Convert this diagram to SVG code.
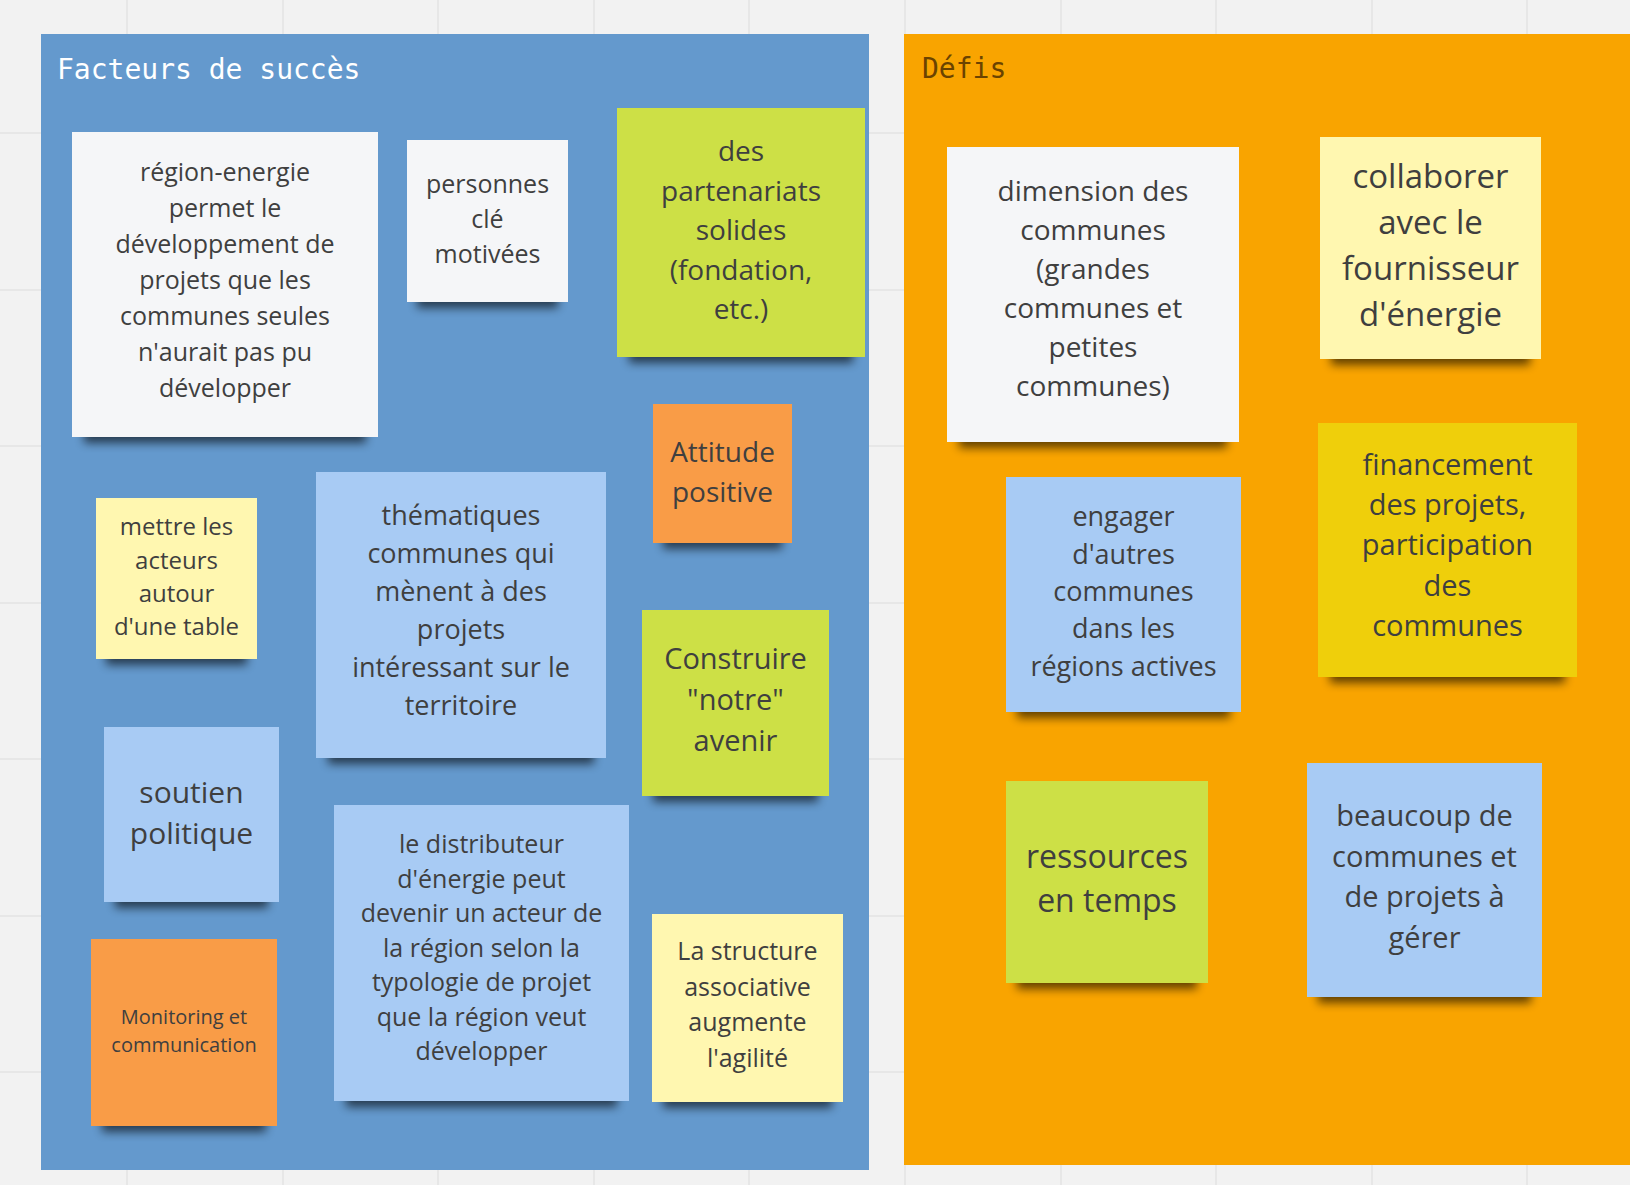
<svg xmlns="http://www.w3.org/2000/svg" width="1630" height="1185" viewBox="0 0 1630 1185">
<style>
.grid line{stroke:#e3e3e3;stroke-width:1.5}
.sh{fill:#000;opacity:.6;filter:url(#blur)}
.t{font-family:"Open Sans","Noto Sans",sans-serif;fill:#3f3f3f;text-anchor:middle}
.title{font-family:"DejaVu Sans Mono","Liberation Mono",monospace;font-size:28px}
.white{fill:#f5f6f8}
.lyellow{fill:#fff7b0}
.green{fill:#cde046}
.orange{fill:#f99c47}
.lblue{fill:#a8cbf4}
.yellow{fill:#efcf0b}
</style>
<defs>
<filter id="blur" x="-20%" y="-50%" width="140%" height="200%"><feGaussianBlur stdDeviation="5"/></filter>
</defs>
<rect width="1630" height="1185" fill="#f2f2f2"/>
<g class="grid">
<line x1="127" y1="0" x2="127" y2="1185"/><line x1="283" y1="0" x2="283" y2="1185"/><line x1="438" y1="0" x2="438" y2="1185"/><line x1="594" y1="0" x2="594" y2="1185"/><line x1="749" y1="0" x2="749" y2="1185"/><line x1="905" y1="0" x2="905" y2="1185"/><line x1="1061" y1="0" x2="1061" y2="1185"/><line x1="1216" y1="0" x2="1216" y2="1185"/><line x1="1372" y1="0" x2="1372" y2="1185"/><line x1="1527" y1="0" x2="1527" y2="1185"/>
<line x1="0" y1="133" x2="1630" y2="133"/><line x1="0" y1="290" x2="1630" y2="290"/><line x1="0" y1="446" x2="1630" y2="446"/><line x1="0" y1="603" x2="1630" y2="603"/><line x1="0" y1="759" x2="1630" y2="759"/><line x1="0" y1="916" x2="1630" y2="916"/><line x1="0" y1="1072" x2="1630" y2="1072"/>
</g>
<g id="frame-succes">
<rect x="41" y="34" width="828" height="1136" fill="#6499cd"/>
<text class="title" x="57" y="79" fill="#ffffff">Facteurs de succès</text>
</g>
<g id="frame-defis">
<rect x="904" y="34" width="726" height="1131" fill="#f9a400"/>
<text class="title" x="922" y="78" fill="#6b4300">Défis</text>
</g>
<g id="connectors"/>

<g id="n1"><rect class="sh" x="84" y="421" width="282" height="22"/><rect class="white" x="72" y="132" width="306" height="305"/>
<text class="t" font-size="25" x="225"><tspan x="225" y="181">région-energie</tspan><tspan x="225" y="217">permet le</tspan><tspan x="225" y="253">développement de</tspan><tspan x="225" y="289">projets que les</tspan><tspan x="225" y="325">communes seules</tspan><tspan x="225" y="361">n'aurait pas pu</tspan><tspan x="225" y="397">développer</tspan></text></g>

<g id="n2"><rect class="sh" x="417" y="286" width="141" height="22"/><rect class="white" x="407" y="140" width="161" height="162"/>
<text class="t" font-size="25" x="487.5"><tspan x="487.5" y="193">personnes</tspan><tspan x="487.5" y="228">clé</tspan><tspan x="487.5" y="263">motivées</tspan></text></g>

<g id="n3"><rect class="sh" x="629" y="341" width="224" height="22"/><rect class="green" x="617" y="108" width="248" height="249"/>
<text class="t" font-size="28" x="741"><tspan x="741" y="161">des</tspan><tspan x="741" y="200.5">partenariats</tspan><tspan x="741" y="240">solides</tspan><tspan x="741" y="279.5">(fondation,</tspan><tspan x="741" y="319">etc.)</tspan></text></g>

<g id="n4"><rect class="sh" x="663" y="527" width="119" height="22"/><rect class="orange" x="653" y="404" width="139" height="139"/>
<text class="t" font-size="28" x="722.5"><tspan x="722.5" y="462">Attitude</tspan><tspan x="722.5" y="502">positive</tspan></text></g>

<g id="n5"><rect class="sh" x="106" y="643" width="141" height="22"/><rect class="lyellow" x="96" y="498" width="161" height="161"/>
<text class="t" font-size="24" x="176.5"><tspan x="176.5" y="535">mettre les</tspan><tspan x="176.5" y="568.5">acteurs</tspan><tspan x="176.5" y="602">autour</tspan><tspan x="176.5" y="635">d'une table</tspan></text></g>

<g id="n6"><rect class="sh" x="328" y="742" width="266" height="22"/><rect class="lblue" x="316" y="472" width="290" height="286"/>
<text class="t" font-size="27" x="461"><tspan x="461" y="525">thématiques</tspan><tspan x="461" y="563">communes qui</tspan><tspan x="461" y="601">mènent à des</tspan><tspan x="461" y="639">projets</tspan><tspan x="461" y="677">intéressant sur le</tspan><tspan x="461" y="715">territoire</tspan></text></g>

<g id="n7"><rect class="sh" x="653" y="780" width="165" height="22"/><rect class="green" x="642" y="610" width="187" height="186"/>
<text class="t" font-size="29" x="735.5"><tspan x="735.5" y="669">Construire</tspan><tspan x="735.5" y="710">"notre"</tspan><tspan x="735.5" y="751">avenir</tspan></text></g>

<g id="n8"><rect class="sh" x="115" y="886" width="153" height="22"/><rect class="lblue" x="104" y="727" width="175" height="175"/>
<text class="t" font-size="30" x="191.5"><tspan x="191.5" y="803">soutien</tspan><tspan x="191.5" y="844">politique</tspan></text></g>

<g id="n9"><rect class="sh" x="346" y="1085" width="271" height="22"/><rect class="lblue" x="334" y="805" width="295" height="296"/>
<text class="t" font-size="25" x="481.5"><tspan x="481.5" y="853">le distributeur</tspan><tspan x="481.5" y="887.5">d'énergie peut</tspan><tspan x="481.5" y="922">devenir un acteur de</tspan><tspan x="481.5" y="956.5">la région selon la</tspan><tspan x="481.5" y="991">typologie de projet</tspan><tspan x="481.5" y="1025.5">que la région veut</tspan><tspan x="481.5" y="1060">développer</tspan></text></g>

<g id="n10"><rect class="sh" x="663" y="1086" width="169" height="22"/><rect class="lyellow" x="652" y="914" width="191" height="188"/>
<text class="t" font-size="25" x="747.5"><tspan x="747.5" y="960">La structure</tspan><tspan x="747.5" y="995.5">associative</tspan><tspan x="747.5" y="1031">augmente</tspan><tspan x="747.5" y="1066.5">l'agilité</tspan></text></g>

<g id="n11"><rect class="sh" x="102" y="1110" width="164" height="22"/><rect class="orange" x="91" y="939" width="186" height="187"/>
<text class="t" font-size="20" x="184"><tspan x="184" y="1023.5">Monitoring et</tspan><tspan x="184" y="1051.5">communication</tspan></text></g>

<g id="n12"><rect class="sh" x="959" y="426" width="268" height="22"/><rect class="white" x="947" y="147" width="292" height="295"/>
<text class="t" font-size="28" x="1093"><tspan x="1093" y="201">dimension des</tspan><tspan x="1093" y="240">communes</tspan><tspan x="1093" y="279">(grandes</tspan><tspan x="1093" y="318">communes et</tspan><tspan x="1093" y="357">petites</tspan><tspan x="1093" y="396">communes)</tspan></text></g>

<g id="n13"><rect class="sh" x="1331" y="343" width="199" height="22"/><rect class="lyellow" x="1320" y="137" width="221" height="222"/>
<text class="t" font-size="33" x="1430.5"><tspan x="1430.5" y="187.5">collaborer</tspan><tspan x="1430.5" y="233.5">avec le</tspan><tspan x="1430.5" y="279.5">fournisseur</tspan><tspan x="1430.5" y="325.5">d'énergie</tspan></text></g>

<g id="n14"><rect class="sh" x="1017" y="696" width="213" height="22"/><rect class="lblue" x="1006" y="477" width="235" height="235"/>
<text class="t" font-size="27" x="1123.5"><tspan x="1123.5" y="526">engager</tspan><tspan x="1123.5" y="563.5">d'autres</tspan><tspan x="1123.5" y="601">communes</tspan><tspan x="1123.5" y="638">dans les</tspan><tspan x="1123.5" y="675.5">régions actives</tspan></text></g>

<g id="n15"><rect class="sh" x="1330" y="661" width="235" height="22"/><rect class="yellow" x="1318" y="423" width="259" height="254"/>
<text class="t" font-size="29" x="1447.5"><tspan x="1447.5" y="474.5">financement</tspan><tspan x="1447.5" y="515">des projets,</tspan><tspan x="1447.5" y="555">participation</tspan><tspan x="1447.5" y="596">des</tspan><tspan x="1447.5" y="636">communes</tspan></text></g>

<g id="n16"><rect class="sh" x="1017" y="967" width="180" height="22"/><rect class="green" x="1006" y="781" width="202" height="202"/>
<text class="t" font-size="32" x="1107"><tspan x="1107" y="868">ressources</tspan><tspan x="1107" y="912">en temps</tspan></text></g>

<g id="n17"><rect class="sh" x="1318" y="981" width="213" height="22"/><rect class="lblue" x="1307" y="763" width="235" height="234"/>
<text class="t" font-size="29" x="1424.5"><tspan x="1424.5" y="826">beaucoup de</tspan><tspan x="1424.5" y="867">communes et</tspan><tspan x="1424.5" y="907">de projets à</tspan><tspan x="1424.5" y="948">gérer</tspan></text></g>
</svg>
